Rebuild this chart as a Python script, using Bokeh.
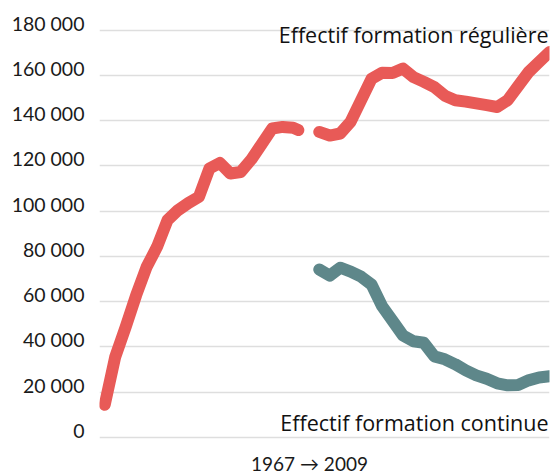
from bokeh.plotting import figure
from bokeh.models import Range1d, FixedTicker, Label
from bokeh.embed import file_html
from bokeh.resources import INLINE

# ---- data ----
years_a = [1967, 1968, 1969, 1970, 1971, 1972, 1973, 1974, 1975, 1976, 1977,
           1978, 1979, 1980, 1981, 1982, 1983, 1984, 1985, 1985.5]
regular_a = [14400, 35500, 48800, 62800, 75300, 84200, 96000, 100400, 103600,
             106300, 118800, 121300, 116600, 117300, 122800, 129600, 136500,
             137200, 136800, 135800]

years_b = [1987.5, 1988.5, 1989.5, 1990.5, 1991.5, 1992.5, 1993.5, 1994.5,
           1995.5, 1996.5, 1997.5, 1998.5, 1999.5, 2000.5, 2001.5, 2002.5,
           2003.5, 2004.5, 2005.5, 2006.5, 2007.5, 2008.5, 2009.5]
regular_b = [135000, 133400, 134300, 139500, 149000, 158500, 161100, 161000,
             163000, 159200, 157100, 154800, 151000, 149000, 148400, 147600,
             146800, 146000, 149000, 155200, 161400, 165900, 170300]
continuing_b = [74200, 71500, 75000, 73300, 71000, 67500, 58000, 51500, 45000,
                42500, 41800, 35800, 34500, 32300, 29600, 27400, 25900, 23900,
                23000, 23200, 25200, 26500, 27000]

tick_values = [0, 20000, 40000, 60000, 80000, 100000, 120000, 140000, 160000, 180000]
tick_labels = ["0", "20 000", "40 000", "60 000", "80 000", "100 000",
               "120 000", "140 000", "160 000", "180 000"]

label_regular = "Effectif formation régulière"
label_continuing = "Effectif formation continue"
x_caption = "1967 \u2192 2009"

# ---- style ----
RED = "#e85a57"
TEAL = "#5e878a"
TICK_FONT = "Lato"
LABEL_FONT = "Open Sans"
Y_MIN, Y_MAX = -16400, 186000
FRAME_H = 458
# lift tick labels so that they sit on top of their grid line (~7 px)
label_lift = int(round(7 * (Y_MAX - Y_MIN) / FRAME_H / 100.0)) * 100

p = figure(width=552, height=474, output_backend="svg", toolbar_location=None,
           x_range=Range1d(1966.5, 2009.5), y_range=Range1d(Y_MIN, Y_MAX),
           min_border_left=99, min_border_right=3, min_border_top=16,
           min_border_bottom=0)
p.outline_line_color = None
p.background_fill_color = "white"
p.border_fill_color = "white"

p.xaxis.visible = False
p.xgrid.visible = False

p.ygrid.ticker = FixedTicker(ticks=tick_values)
p.ygrid.grid_line_color = "#dedede"
p.ygrid.grid_line_width = 1.5

yax = p.yaxis[0]
shifted = [v + label_lift for v in tick_values]
yax.ticker = FixedTicker(ticks=shifted)
yax.major_label_overrides = {s: t for s, t in zip(shifted, tick_labels)}
yax.axis_line_color = None
yax.major_tick_line_color = None
yax.minor_tick_line_color = None
yax.major_label_standoff = 9
yax.major_label_text_font = TICK_FONT
yax.major_label_text_font_size = "19.5px"
yax.major_label_text_color = "#1a1a1a"

for xs, ys, c in [(years_a, regular_a, RED), (years_b, regular_b, RED),
                  (years_b, continuing_b, TEAL)]:
    p.line(xs, ys, line_color=c, line_width=12, line_cap="round", line_join="round")

p.add_layout(Label(x=2009.5, y=178000, text=label_regular, text_align="right",
                   text_baseline="alphabetic", x_offset=-1,
                   text_font=LABEL_FONT, text_font_size="21.5px", text_color="#111111"))
p.add_layout(Label(x=2009.5, y=6800, text=label_continuing, text_align="right",
                   text_baseline="alphabetic", x_offset=-1,
                   text_font=LABEL_FONT, text_font_size="21.5px", text_color="#111111"))
p.add_layout(Label(x=210, y=11, x_units="screen", y_units="screen", text=x_caption,
                   text_align="center", text_baseline="alphabetic",
                   text_font=TICK_FONT, text_font_size="19px", text_color="#1a1a1a"))

open("out.html", "w").write(file_html(p, INLINE))
